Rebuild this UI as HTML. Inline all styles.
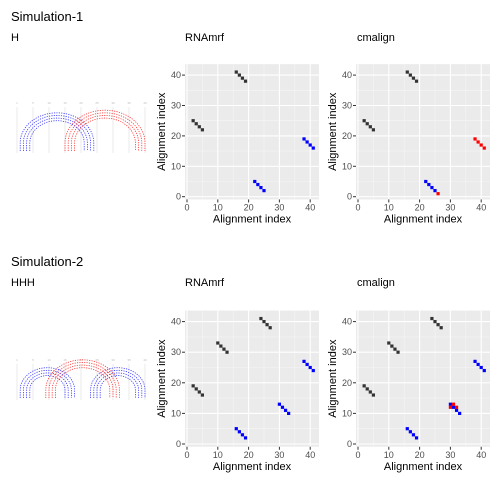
<!DOCTYPE html>
<html><head><meta charset="utf-8"><style>
body{margin:0;background:#fff;}
svg{display:block;font-family:"Liberation Sans",sans-serif;}
</style></head><body>
<svg id="s" width="504" height="504">
<text x="11" y="21" font-size="13" fill="#000">Simulation-1</text>
<text x="11" y="41" font-size="11" fill="#000">H</text>
<text x="185" y="41" font-size="11" fill="#000">RNAmrf</text>
<text x="357" y="41" font-size="11" fill="#000">cmalign</text>
<text x="11" y="266" font-size="13" fill="#000">Simulation-2</text>
<text x="11" y="286" font-size="11" fill="#000">HHH</text>
<text x="185" y="286" font-size="11" fill="#000">RNAmrf</text>
<text x="357" y="286" font-size="11" fill="#000">cmalign</text>
</svg>
<script>
// Simulation-1 data
const s1Black=[[16,41],[17,40],[18,39],[19,38],[2,25],[3,24],[4,23],[5,22]];
const s1RnaBlue=[[22,5],[23,4],[24,3],[25,2],[38,19],[39,18],[40,17],[41,16]];
const s1CmBlue=[[22,5],[23,4],[24,3],[25,2]];
const s1CmRed=[[26,1],[38,19],[39,18],[40,17],[41,16]];
// Simulation-2 data
const s2Black=[[2,19],[3,18],[4,17],[5,16],[10,33],[11,32],[12,31],[13,30],[24,41],[25,40],[26,39],[27,38]];
const s2RnaBlue=[[16,5],[17,4],[18,3],[19,2],[30,13],[31,12],[32,11],[33,10],[38,27],[39,26],[40,25],[41,24]];
const s2CmBlue=[[16,5],[17,4],[18,3],[19,2],[30,13],[31,12],[32,11],[33,10],[38,27],[39,26],[40,25],[41,24]];
const s2CmRed=[[31,13],[30,12],[32,12]];
const tickVals=[0,10,20,30,40];
// arc diagram stems [i,j,count]
const arc1Blue=[[2,25,4]];
const arc1Red=[[16,41,4]];
const arc2Blue=[[2,19,4],[24,41,4]];
const arc2Red=[[10,33,4]];

const svg=document.getElementById('s');
const NS='http://www.w3.org/2000/svg';
function mk(tag,attrs,parent){const e=document.createElementNS(NS,tag);for(const k in attrs)e.setAttribute(k,attrs[k]);(parent||svg).appendChild(e);return e;}

function panel(px,py0,ys,name,black,blue,red){
  const X=v=>px+2+v*3.08, Y=v=>py0-v*ys;
  const left=px, right=px+134, top=Y(43.6), bot=Y(-0.9);
  const g=mk('g',{});
  
  
  mk('rect',{x:left,y:top,width:right-left,height:bot-top,fill:'#ebebeb'},g);
  for(let v=5;v<=40;v+=10){
    mk('line',{x1:X(v),x2:X(v),y1:top,y2:bot,stroke:'#f5f5f5','stroke-width':0.6},g);
    mk('line',{x1:left,x2:right,y1:Y(v),y2:Y(v),stroke:'#f5f5f5','stroke-width':0.6},g);
  }
  tickVals.forEach(v=>{
    mk('line',{x1:X(v),x2:X(v),y1:top,y2:bot,stroke:'#fff','stroke-width':1.1},g);
    mk('line',{x1:left,x2:right,y1:Y(v),y2:Y(v),stroke:'#fff','stroke-width':1.1},g);
    mk('line',{x1:X(v),x2:X(v),y1:bot,y2:bot+3,stroke:'#333'},g);
    mk('line',{x1:left-3,x2:left,y1:Y(v),y2:Y(v),stroke:'#333'},g);
    const tx=mk('text',{x:X(v),y:bot+11,'font-size':9,fill:'#4d4d4d','text-anchor':'middle'},g);tx.textContent=v;
    
    
    const ty=mk('text',{x:left-4,y:Y(v)+3,'font-size':9,fill:'#4d4d4d','text-anchor':'end'},g);ty.textContent=v;
    
    
  });
  const xt=mk('text',{x:(left+right)/2,y:bot+23,'font-size':11,fill:'#000','text-anchor':'middle'},g);xt.textContent='Alignment index';
  
  
  const cy=(top+bot)/2;
  const yt=mk('text',{x:left-20,y:cy,'font-size':11,fill:'#000','text-anchor':'middle',transform:`rotate(-90 ${left-20} ${cy})`},g);yt.textContent='Alignment index';
  
  
  const pts=(arr,col)=>arr.forEach(p=>{
    const r=mk('rect',{x:X(p[0])-1.6,y:Y(p[1])-1.6,width:3.2,height:3.2,fill:col},g);
    
    
  });
  pts(black,'#333');pts(blue,'#0000ff');pts(red,'#ff0000');
}
panel(185,196.7,3.04,'rnamrf-panel-1',s1Black,s1RnaBlue,[]);
panel(356,196.7,3.04,'cmalign-panel-1',s1Black,s1CmBlue,s1CmRed);
panel(185,444,3.06,'rnamrf-panel-2',s2Black,s2RnaBlue,[]);
panel(356,444,3.06,'cmalign-panel-2',s2Black,s2CmBlue,s2CmRed);

function arcs(axisY,baseY,name,blue,red){
  const X=i=>17+(i-1)*3.2;
  const g=mk('g',{});
  
  
  for(let k=0;k<=8;k++){
    const x=X(1+k*5);
    mk('line',{x1:x,x2:x,y1:axisY+3,y2:baseY+2,stroke:'#ddd','stroke-width':0.6},g);
    const t=mk('text',{x:x,y:axisY,'font-size':3,fill:'#bbb','text-anchor':'middle'},g);t.textContent=k*5||1;
    
    
  }
  const draw=(arr,col)=>arr.forEach(s=>{
    for(let k=0;k<s[2];k++){
      const a=X(s[0]+k),b=X(s[1]-k),r=(b-a)/2;
      const p=mk('path',{d:`M${a} ${baseY} L${a} ${baseY-8} A${r} ${r*0.82} 0 0 1 ${b} ${baseY-8} L${b} ${baseY}`,fill:'none',stroke:col,'stroke-width':0.8,'stroke-dasharray':'1.2 1.2',opacity:0.8},g);
      
      
    }
  });
  draw(blue,'#0000ff');draw(red,'#ff0000');
}
arcs(104,151,'arc-diagram-1',arc1Blue,arc1Red);
arcs(361,398,'arc-diagram-2',arc2Blue,arc2Red);
</script>
</body></html>
